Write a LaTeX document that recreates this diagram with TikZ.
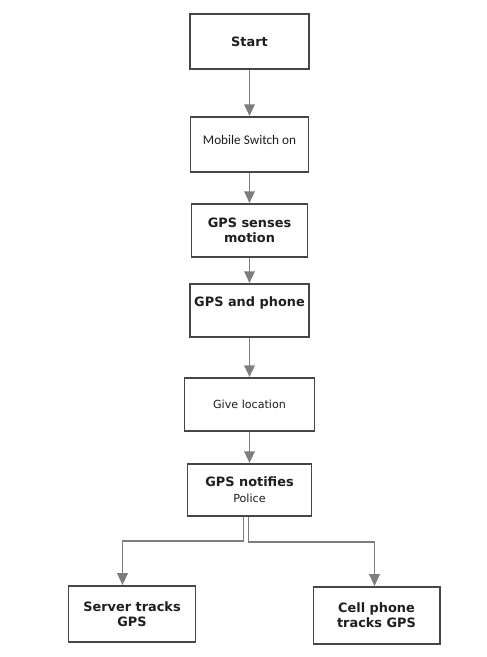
\documentclass[tikz,border=0pt]{standalone}
\usepackage{fontspec}
\setmainfont{DejaVu Sans}
\newfontfamily\calibrifont{Carlito}
\usepackage{tikz}
\usetikzlibrary{arrows.meta,positioning}
\definecolor{boxline}{RGB}{70,70,70}
\definecolor{arrgray}{RGB}{125,125,125}
\definecolor{txtdark}{RGB}{30,30,30}
\tikzset{
  basebox/.style={rectangle,draw=boxline,line width=1.7pt,fill=white,align=center,text=txtdark},
  boldnode/.style={basebox,font=\fontsize{11}{13}\selectfont\bfseries},
  plainnode/.style={basebox,font=\fontsize{9.5}{12}\selectfont},
  arr/.style={-{Triangle[length=10pt,width=9pt]},line width=1.4pt,color=arrgray}
}
\begin{document}
\begin{tikzpicture}
  \useasboundingbox (0,0) rectangle (14.61,-19.71);
  \node[boldnode,minimum width=3.57cm,minimum height=1.65cm] (start) at (7.485,-1.245) {Start};
  \node[basebox,font=\calibrifont\fontsize{11.3}{13}\selectfont,text depth=0.25cm,minimum width=3.54cm,minimum height=1.65cm,below=1.38cm of start] (mobile) {Mobile Switch on};
  \node[boldnode,minimum width=3.48cm,minimum height=1.59cm,below=0.9cm of mobile] (senses) {GPS senses\\motion};
  \node[boldnode,text depth=0.55cm,minimum width=3.57cm,minimum height=1.59cm,below=0.75cm of senses] (phone) {GPS and phone};
  \node[plainnode,minimum width=3.9cm,minimum height=1.59cm,below=1.17cm of phone] (give) {Give location};
  \node[plainnode,minimum width=3.72cm,minimum height=1.56cm,below=0.93cm of give] (notify)
      {{\bfseries\fontsize{11}{13}\selectfont GPS notifies}\\[2pt]Police};
  \node[boldnode,minimum width=3.81cm,minimum height=1.68cm,below=2.04cm of notify,xshift=-3.525cm] (server) {Server tracks\\GPS};
  \node[boldnode,minimum width=3.78cm,minimum height=1.71cm,below=2.07cm of notify,xshift=3.81cm] (cell) {Cell phone\\tracks GPS};

  \draw[arr] (start)--(mobile); \draw[arr] (mobile)--(senses);
  \draw[arr] (senses)--(phone); \draw[arr] (phone)--(give);
  \draw[arr] (give)--(notify);
  \draw[arr] ([xshift=-0.18cm]notify.south) -- ++(0,-0.72) -| ([xshift=-0.285cm]server.north);
  \draw[arr] ([xshift=-0.03cm]notify.south) -- ++(0,-0.75) -| ([xshift=-0.06cm]cell.north);
\end{tikzpicture}
\end{document}
